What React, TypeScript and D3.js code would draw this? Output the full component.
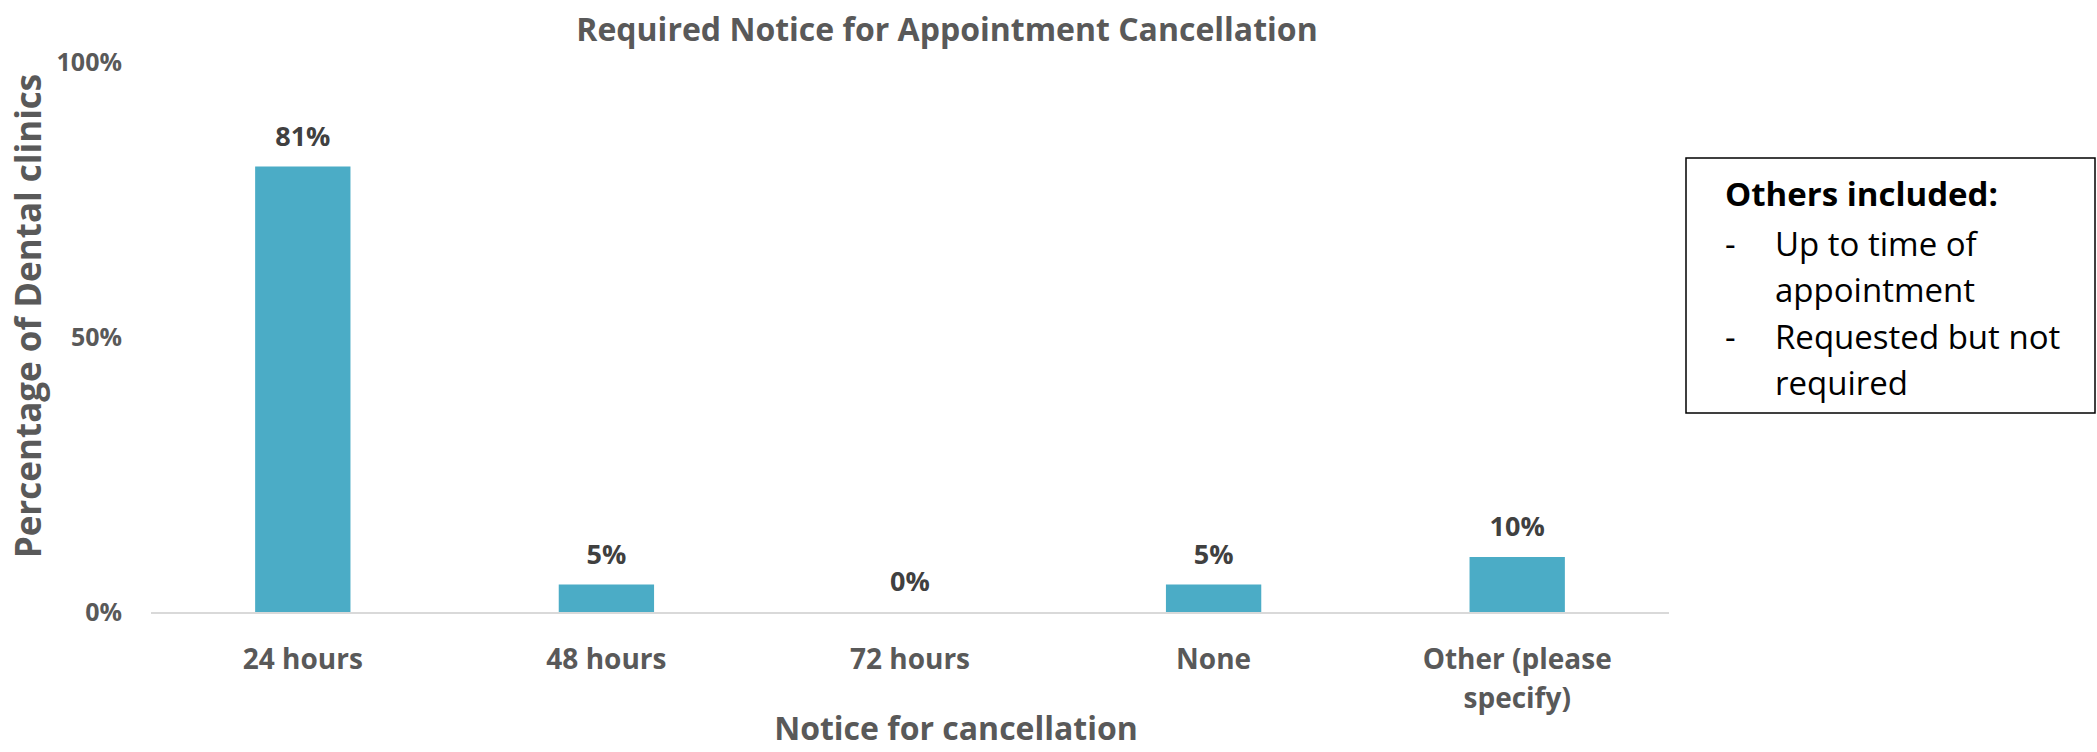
import React from "react";
import * as d3 from "d3";

const categories = ["24 hours", "48 hours", "72 hours", "None", "Other (please specify)"];
const categoryLines = [["24 hours"], ["48 hours"], ["72 hours"], ["None"], ["Other (please", "specify)"]];
const values = [81, 5, 0, 5, 10];
const yTicks = [0, 50, 100];
const title = "Required Notice for Appointment Cancellation";
const yTitle = "Percentage of Dental clinics";
const xTitle = "Notice for cancellation";
const noteTitle = "Others included:";
const noteItems = [["Up to time of", "appointment"], ["Requested but not", "required"]];

const W = 2097, H = 752;
const FONT = "'Open Sans', 'Noto Sans', sans-serif";

export default function App() {
  const x = d3.scaleBand().domain(categories).range([151, 1669]).paddingInner(0.686).paddingOuter(0.343);
  const y = d3.scaleLinear().domain([0, 100]).range([612, 62]);
  const gray = "#595959";
  return (
    <svg width={W} height={H} style={{ position: "absolute", left: 0, top: 0, background: "#fff" }}>
      <text x={947} y={41} textAnchor="middle" fontFamily={FONT} fontWeight="bold" fontSize={32} fill={gray}>{title}</text>
      {yTicks.map(t => (
        <text key={t} x={122} y={y(t) + 9} textAnchor="end" fontFamily={FONT} fontWeight="bold" fontSize={25} fill={gray}>{t}%</text>
      ))}
      <line x1={151} x2={1669} y1={y(0) + 1} y2={y(0) + 1} stroke="#D9D9D9" strokeWidth={2} />
      {categories.map((c, i) => (
        <g key={c}>
          <rect x={x(c)} y={y(values[i])} width={x.bandwidth()} height={y(0) - y(values[i])} fill="#4BACC6" />
          <text x={x(c)! + x.bandwidth() / 2} y={y(values[i]) - 21} textAnchor="middle" fontFamily={FONT} fontWeight="bold" fontSize={27} fill="#404040">{values[i]}%</text>
          {categoryLines[i].map((l, j) => (
            <text key={j} x={x(c)! + x.bandwidth() / 2} y={669 + j * 39} textAnchor="middle" fontFamily={FONT} fontWeight="bold" fontSize={28} fill={gray}>{l}</text>
          ))}
        </g>
      ))}
      <text transform={`translate(41,316) rotate(-90)`} textAnchor="middle" fontFamily={FONT} fontWeight="bold" fontSize={35} fill={gray}>{yTitle}</text>
      <text x={956} y={740} textAnchor="middle" fontFamily={FONT} fontWeight="bold" fontSize={32} fill={gray}>{xTitle}</text>
      <rect x={1686} y={158} width={409} height={255} fill="#fff" stroke="#000" strokeWidth={1.5} />
      <text x={1725} y={206} fontFamily={FONT} fontWeight="bold" fontSize={33} fill="#000">{noteTitle}</text>
      {noteItems.map((item, i) => (
        <g key={i}>
          <text x={1725} y={256 + i * 93} fontFamily={FONT} fontSize={33} fill="#000">-</text>
          {item.map((l, j) => (
            <text key={j} x={1775} y={256 + i * 93 + j * 46} fontFamily={FONT} fontSize={33} fill="#000">{l}</text>
          ))}
        </g>
      ))}
    </svg>
  );
}
